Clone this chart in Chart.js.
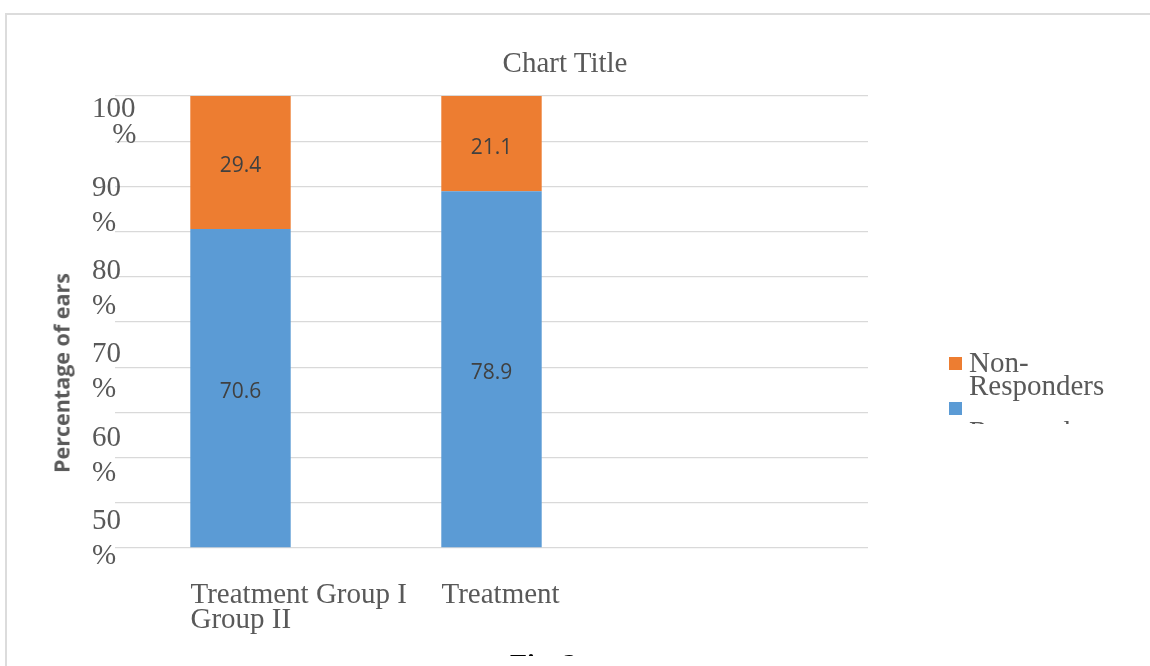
<!DOCTYPE html>
<html>
<head>
<meta charset="utf-8">
<script src="https://cdn.jsdelivr.net/npm/chart.js@4.4.1/dist/chart.umd.min.js"></script>
<style>
  html, body { margin:0; padding:0; background:#fff; width:1150px; height:666px; overflow:hidden; }
  body { position:relative; }
  #frame { position:absolute; left:5px; top:13px; width:2000px; height:2000px; border:2px solid #dcdcdc; box-sizing:border-box; }
  #chartBox { position:absolute; left:0; top:0; width:1150px; height:666px; }
  .serif { font-family:"Liberation Serif","Times New Roman",serif; color:#595959; }
  #title { position:absolute; top:48px; left:565px; transform:translateX(-50%); font-size:29px; line-height:28px; white-space:nowrap; }
  #ytitle { position:absolute; left:61px; top:373px; transform:translate(-50%,-50%) rotate(-90deg); font-family:"Open Sans",sans-serif; font-weight:bold; font-size:21.5px; color:#595959; white-space:nowrap; }
  #legend { position:absolute; left:940px; top:340px; width:210px; height:84px; overflow:hidden; }
  .sw { position:absolute; width:13px; height:13px; }
  .lt { position:absolute; left:29px; width:160px; font-size:29px; line-height:23px; }
  #figClip { position:absolute; left:0; top:0; width:1150px; height:656px; overflow:hidden; pointer-events:none; }
  #fig { position:absolute; left:510px; top:650px; font-size:28px; line-height:28px; font-weight:bold; color:#000; white-space:nowrap; }
</style>
</head>
<body>
<div id="frame"></div>
<div id="chartBox"><canvas id="c" width="1150" height="666"></canvas></div>
<div id="title" class="serif">Chart Title</div>
<div id="ytitle">Percentage of ears</div>
<div id="legend" class="serif"></div>
<div id="figClip"><div id="fig" class="serif">Fig. 2</div></div>
<script>
// ---- data ----
const categories = ["Treatment Group I", "Treatment Group II", ""];
const categoryLines = [["Treatment Group I", "Group II"], ["Treatment"], [""]];
const seriesNames = ["Responders", "Non-Responders"];
const responders = [70.6, 78.9, null];
const nonResponders = [29.4, 21.1, null];
const yTickValues = [50, 60, 70, 80, 90, 100];
const yTickLabels = ["50 %", "60 %", "70 %", "80 %", "90 %", "100 %"];
const colors = ["#5B9BD5", "#ED7D31"];

const SERIF = '"Liberation Serif", "Times New Roman", serif';

const barValueLabels = {
  id: 'barValueLabels',
  afterDatasetsDraw(chart) {
    const ctx = chart.ctx;
    ctx.save();
    ctx.font = '21px "Open Sans", sans-serif';
    ctx.fillStyle = '#404040';
    ctx.textAlign = 'center';
    ctx.textBaseline = 'middle';
    chart.data.datasets.forEach((ds, di) => {
      const meta = chart.getDatasetMeta(di);
      meta.data.forEach((el, i) => {
        const v = ds.data[i];
        if (v == null) return;
        const p = el.getProps(['x', 'y', 'base'], true);
        ctx.fillText(v.toFixed(1), p.x, (p.y + p.base) / 2 + 4);
      });
    });
    ctx.restore();
  }
};

const chart = new Chart(document.getElementById('c'), {
  type: 'bar',
  data: {
    labels: categories,
    datasets: [
      { label: seriesNames[0], data: responders, backgroundColor: colors[0], barPercentage: 0.8, categoryPercentage: 0.5, yAxisID: 'y' },
      { label: seriesNames[1], data: nonResponders, backgroundColor: colors[1], barPercentage: 0.8, categoryPercentage: 0.5, yAxisID: 'y' }
    ]
  },
  options: {
    responsive: false,
    animation: false,
    layout: { padding: { left: 92, right: 282, top: 96, bottom: 0 } },
    plugins: { legend: { display: false }, title: { display: false }, tooltip: { enabled: false } },
    scales: {
      x: {
        stacked: true,
        grid: { display: false },
        border: { display: false },
        ticks: {
          align: 'start', labelOffset: -50, padding: 27, color: '#595959',
          autoSkip: false, maxRotation: 0, minRotation: 0,
          font: { family: SERIF, size: 29, lineHeight: '25px' },
          callback: (v, i) => categoryLines[i]
        },
        afterFit: s => { s.height = 118; }
      },
      y: {
        type: 'linear', stacked: true, min: 0, max: 100, weight: 0,
        ticks: { display: false, stepSize: 10 },
        grid: { color: '#d9d9d9', lineWidth: 1.3, drawTicks: false },
        border: { display: false },
        afterFit: s => { s.width = 0; }
      },
      y2: {
        type: 'linear', position: 'left', min: 48.93, max: 103.13, weight: 1,
        grid: { display: false, drawTicks: false },
        border: { display: false },
        afterBuildTicks: s => { s.ticks = yTickValues.map(v => ({ value: v })); },
        ticks: {
          mirror: true, padding: -23, color: '#595959',
          font: ctx => ({ family: SERIF, size: 29, lineHeight: (ctx.tick && ctx.tick.value === 100) ? '26px' : '35px' }),
          callback: (v) => {
            const idx = yTickValues.indexOf(v);
            const parts = yTickLabels[idx].split(' ');
            if (parts[0].length > 2) parts[1] = '\u2002\u2009' + parts[1];
            return parts;
          }
        },
        afterFit: s => { s.width = 23; }
      }
    }
  },
  plugins: [barValueLabels]
});

// ---- legend (HTML), reversed order like the reference ----
const legend = document.getElementById('legend');
const items = chart.data.datasets.map((d, i) => ({ text: d.label, color: d.backgroundColor })).reverse();
const swTops = [17, 62];
const txtTops = [11, 80];
items.forEach((it, k) => {
  const sw = document.createElement('div');
  sw.className = 'sw';
  sw.style.left = '9px';
  sw.style.top = swTops[k] + 'px';
  sw.style.background = it.color;
  legend.appendChild(sw);
  const t = document.createElement('div');
  t.className = 'lt';
  t.style.top = txtTops[k] + 'px';
  t.textContent = it.text;
  legend.appendChild(t);
});
</script>
</body>
</html>
